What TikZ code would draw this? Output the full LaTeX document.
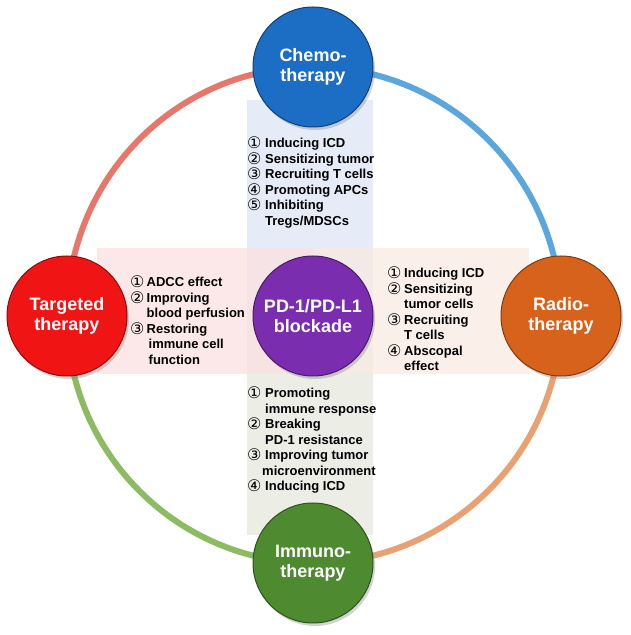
\documentclass[tikz,border=0pt]{standalone}
\usepackage{fontspec}
\setmainfont{Liberation Sans}
\newfontfamily\numfont{DejaVu Sans}
\usetikzlibrary{shadows,backgrounds}

\definecolor{chemoblue}{HTML}{1C6DC4}
\definecolor{targetred}{HTML}{F01414}
\definecolor{pdpurple}{HTML}{7A2DAE}
\definecolor{radioorange}{HTML}{D6621C}
\definecolor{immunogreen}{HTML}{4E8A2F}
\definecolor{arcred}{HTML}{E8776B}
\definecolor{arcblue}{HTML}{5AA6DD}
\definecolor{arcorange}{HTML}{E9A073}
\definecolor{arcgreen}{HTML}{8DBB62}
\definecolor{bandblue}{HTML}{E5ECF7}
\definecolor{bandgreen}{HTML}{ECEEE5}
\definecolor{bandpink}{HTML}{FBE0E0}
\definecolor{bandpeach}{HTML}{F8EAE2}
\colorlet{knobin}{white}
\colorlet{knobout}{black}
\pgfdeclareradialshading[knobin,knobout]{knob}{\pgfpoint{0bp}{4bp}}{color(0bp)=(knobin); color(34bp)=(knobin); color(50bp)=(knobout); color(60bp)=(knobout)}

\newcommand\cnum[2][18pt]{\makebox[#1][l]{\raisebox{-1pt}[0pt][0pt]{\numfont\mdseries\fontsize{16pt}{15.5pt}\selectfont #2}}}

\begin{document}
\begin{tikzpicture}[
    x=1pt, y=1pt,
    knobcol/.code={\colorlet{knobin}{#1}\colorlet{knobout}{#1!70!black}},
    knob/.style={circle, minimum size=120pt, inner sep=0pt, knobcol=#1, shading=knob,
        draw=#1!60!black, line width=1pt,
        drop shadow={shadow xshift=2pt, shadow yshift=-3pt, opacity=0.35},
        text=white, font=\fontsize{18pt}{20.5pt}\selectfont\bfseries, align=center},
    listtext/.style={font=\fontsize{13pt}{15.5pt}\selectfont\bfseries, inner sep=0pt, anchor=base west},
    ring/.style={line width=6pt},
]
    \useasboundingbox (0,0) rectangle (630,635);

    % therapies
    \node[knob=pdpurple] (pd) at (313,319) {PD-1/PD-L1\\blockade};
    \node[knob=chemoblue] (chemo) at (313,568) {Chemo-\\therapy};
    \node[knob=targetred] (target) at (67,319) {Targeted\\therapy};
    \node[knob=radioorange] (radio) at (561,319) {Radio-\\therapy};
    \node[knob=immunogreen] (immuno) at (313,72) {Immuno-\\therapy};

    % mechanisms
    \node[listtext] (chemolist) at (247,487) {\begin{tabular}[t]{@{}l@{}l@{}}
        \cnum{①} & Inducing ICD\\
        \cnum{②} & Sensitizing tumor\\
        \cnum{③} & Recruiting T cells\\
        \cnum{④} & Promoting APCs\\
        \cnum{⑤} & Inhibiting\\
                 & Tregs/MDSCs
    \end{tabular}};
    \node[listtext] (targetlist) at (130,348) {\begin{tabular}[t]{@{}l@{}l@{}}
        \cnum[16.5pt]{①} & ADCC effect\\
        \cnum[16.5pt]{②} & Improving\\
                         & blood perfusion\\
        \cnum[16.5pt]{③} & Restoring\\
                         & \hspace{2pt}immune cell\\
                         & \hspace{2pt}function
    \end{tabular}};
    \node[listtext] (radiolist) at (387,357) {\begin{tabular}[t]{@{}l@{}l@{}}
        \cnum[17pt]{①} & Inducing ICD\\
        \cnum[17pt]{②} & Sensitizing\\
                       & tumor cells\\
        \cnum[17pt]{③} & Recruiting\\
                       & T cells\\
        \cnum[17pt]{④} & Abscopal\\
                       & effect
    \end{tabular}};
    \node[listtext] (immunolist) at (247,237) {\begin{tabular}[t]{@{}l@{}l@{}}
        \cnum{①} & Promoting\\
                 & immune response\\
        \cnum{②} & Breaking\\
                 & PD-1 resistance\\
        \cnum{③} & Improving tumor\\
                 & \hspace{-3pt}microenvironment\\
        \cnum{④} & Inducing ICD
    \end{tabular}};

    \begin{scope}[on background layer]
        % bands
        \fill[bandblue] (247,319) rectangle (373,535);
        \fill[bandgreen] (247,100) rectangle (373,319);
        \fill[bandpink, fill opacity=0.75] (97,261) rectangle (313,387);
        \fill[bandpeach, fill opacity=0.75] (313,261) rectangle (529,387);
        % ring
        \draw[ring, arcred] (chemo.center) to[out=180, in=90] (target.center);
        \draw[ring, arcblue] (chemo.center) to[out=0, in=90] (radio.center);
        \draw[ring, arcorange] (radio.center) to[out=-90, in=0] (immuno.center);
        \draw[ring, arcgreen] (immuno.center) to[out=180, in=-90] (target.center);
    \end{scope}
\end{tikzpicture}
\end{document}
